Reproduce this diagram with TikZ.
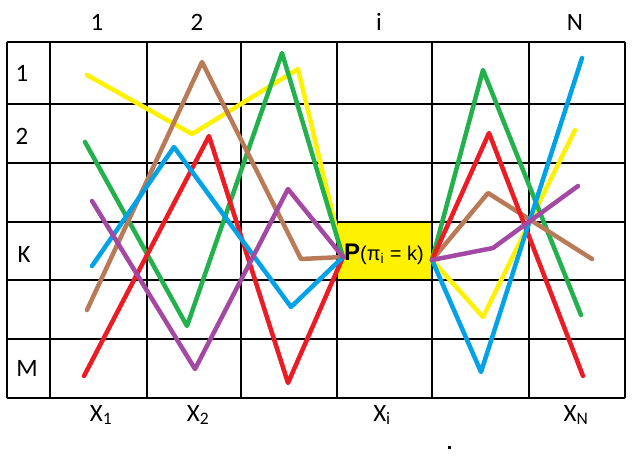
\documentclass[tikz,border=0pt]{standalone}
\usepackage{fontspec}
\setmainfont{Carlito}
\newfontfamily\boxfont{Liberation Sans}
\begin{document}
\begin{tikzpicture}[x=1pt,y=-1pt,
  gridline/.style={line width=1.3pt,black},
  pth/.style={line width=4.5pt,line cap=round,line join=round},
  lbl/.style={font=\fontsize{25}{25}\selectfont,inner sep=0pt},
]
\definecolor{pyellow}{HTML}{FFF200}
\definecolor{pbrown}{HTML}{B97A57}
\definecolor{pgreen}{HTML}{22B14C}
\definecolor{pred}{HTML}{ED1C24}
\definecolor{pblue}{HTML}{00A2E8}
\definecolor{ppurple}{HTML}{A349A4}
\useasboundingbox (0,0) rectangle (639,456);
\fill[white] (0,0) rectangle (639,456);
% yellow box
\fill[pyellow] (337,222) rectangle (432,280);
% grid
\foreach \x in {7,50,147,241,337,432,529,625} \draw[gridline] (\x,42) -- (\x,398);
\foreach \y in {42,104,163,222,280,339,398} \draw[gridline] (7,\y) -- (625,\y);
% labels
\node[lbl] (c1) at (97,22) {1};
\node[lbl] (c2) at (197,22) {2};
\node[lbl] (ci) at (379,22) {i};
\node[lbl] (cN) at (575,22) {N};
\node[lbl] (r1) at (22,73) {1};
\node[lbl] (r2) at (22,136) {2};
\node[lbl] (rK) at (24,254) {K};
\node[lbl] (rM) at (27,368) {M};
\node[lbl] (x1) at (101,415) {X\textsubscript{1}};
\node[lbl] (x2) at (198,415) {X\textsubscript{2}};
\node[lbl] (xi) at (382,415) {X\textsubscript{i}};
\node[lbl] (xN) at (576,415) {X\textsubscript{N}};
\fill[black] (447.5,445.5) rectangle (450.5,448.5);
% convergence points
\coordinate (L) at (343,257);
\coordinate (R) at (432,260);
% yellow
\coordinate (y1) at (87,75); \coordinate (y2) at (192,134); \coordinate (y3) at (298,69);
\coordinate (y4) at (483,317); \coordinate (y5) at (575,130);
\draw[pth,pyellow] (y1) -- (y2) -- (y3) -- (L);
\draw[pth,pyellow] (R) -- (y4) -- (y5);
% green
\coordinate (g1) at (85,142); \coordinate (g2) at (187,326); \coordinate (g3) at (282,53);
\coordinate (g4) at (483,70); \coordinate (g5) at (581,315);
\draw[pth,pgreen] (g1) -- (g2) -- (g3) -- (L);
\draw[pth,pgreen] (R) -- (g4) -- (g5);
% brown
\coordinate (b1) at (87,310); \coordinate (b2) at (202,62); \coordinate (b3) at (301,259);
\coordinate (b4) at (488,193); \coordinate (b5) at (592,259);
\draw[pth,pbrown] (b1) -- (b2) -- (b3) -- (L);
\draw[pth,pbrown] (R) -- (b4) -- (b5);
% red
\coordinate (e1) at (84,376); \coordinate (e2) at (209,136); \coordinate (e3) at (288,383);
\coordinate (e4) at (489,133); \coordinate (e5) at (583,376);
\draw[pth,pred] (e1) -- (e2) -- (e3) -- (L);
\draw[pth,pred] (R) -- (e4) -- (e5);
% blue
\coordinate (u1) at (92,266); \coordinate (u2) at (174,147); \coordinate (u3) at (291,307);
\coordinate (u4) at (481,372); \coordinate (u5) at (582,58);
\draw[pth,pblue] (u1) -- (u2) -- (u3) -- (L);
\draw[pth,pblue] (R) -- (u4) -- (u5);
% purple
\coordinate (p1) at (92,201); \coordinate (p2) at (195,369); \coordinate (p3) at (288,189);
\coordinate (p4) at (493,248); \coordinate (p5) at (578,186);
\draw[pth,ppurple] (p1) -- (p2) -- (p3) -- (L);
\draw[pth,ppurple] (R) -- (p4) -- (p5);
% box label
\node[inner sep=0pt,anchor=west] (P) at (344,254) {\boxfont\fontsize{24}{24}\selectfont\textbf{P}\fontsize{20}{20}\selectfont(π\textsubscript{i} = k)};
\end{tikzpicture}
\end{document}
